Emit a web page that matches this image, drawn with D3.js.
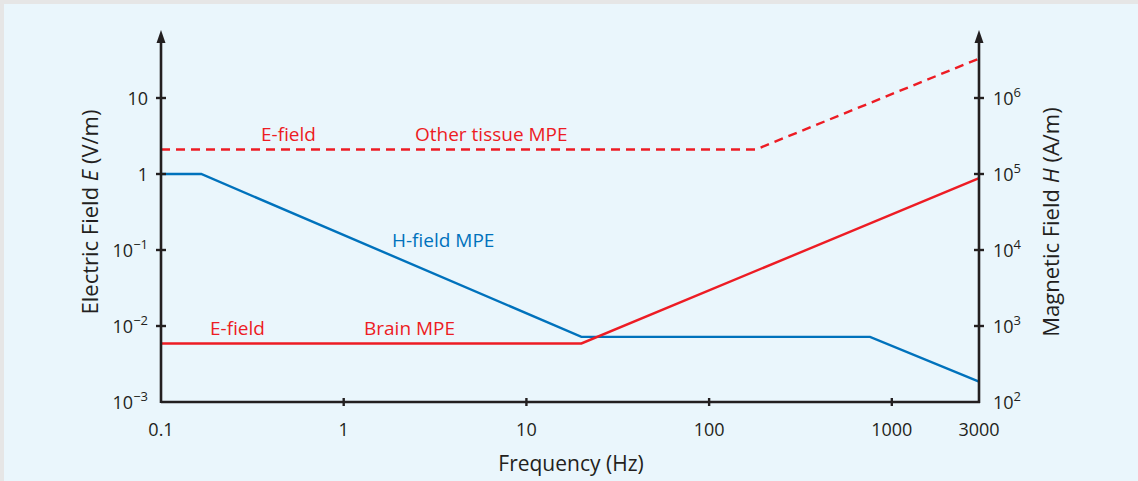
<!DOCTYPE html>
<html>
<head>
<meta charset="utf-8">
<script src="https://cdn.jsdelivr.net/npm/d3@7"></script>
<style>
  html, body { margin: 0; padding: 0; background: #e6e6e6; }
  svg { display: block; font-family: "Open Sans", "Noto Sans", sans-serif; }
</style>
</head>
<body>
<div class="chart"></div>
<script>
// frequency (Hz) / value pairs
var brainFreq   = [0.1, 20, 3000];
var brainE      = [0.00589, 0.00589, 0.882];
var otherFreq   = [0.1, 180, 3000];
var otherE      = [2.1, 2.1, 33];
var hFreq       = [0.1, 0.166, 20, 760, 3000];
var hField      = [100000, 100000, 720, 720, 185];

var xTicks      = [0.1, 1, 10, 100, 1000, 3000];
var xTickLabels = ["0.1", "1", "10", "100", "1000", "3000"];
var eTicks      = [0.001, 0.01, 0.1, 1, 10];
var eTickLabels = [["10", "\u22123"], ["10", "\u22122"], ["10", "\u22121"], ["1", ""], ["10", ""]];
var hTicks      = [100, 1000, 10000, 100000, 1000000];
var hTickLabels = [["10", "2"], ["10", "3"], ["10", "4"], ["10", "5"], ["10", "6"]];

var width = 1138, height = 481;
var red = "#ed1c24", blue = "#0072bc", ink = "#231f20";

var svg = d3.select(".chart").append("svg")
  .attr("width", width).attr("height", height);

svg.append("rect").attr("x", 4).attr("y", 4)
  .attr("width", width - 4).attr("height", height - 4)
  .attr("fill", "#eaf6fc");

var x  = d3.scaleLog().domain([0.1, 3000]).range([161, 979]);
var yE = d3.scaleLog().domain([0.001, 10]).range([402, 98]);
var yH = d3.scaleLog().domain([100, 1000000]).range([402, 98]);

var x0 = x.range()[0], x1 = x.range()[1], yb = yE.range()[0];

function pairs(a, b) { return a.map(function(v, i) { return [v, b[i]]; }); }

// lines
var lineE = d3.line().x(function(d) { return x(d[0]); }).y(function(d) { return yE(d[1]); });
var lineH = d3.line().x(function(d) { return x(d[0]); }).y(function(d) { return yH(d[1]); });

svg.append("path").datum(pairs(hFreq, hField))
  .attr("d", lineH).attr("fill", "none").attr("stroke", blue).attr("stroke-width", 2.4);
svg.append("path").datum(pairs(otherFreq, otherE))
  .attr("d", lineE).attr("fill", "none").attr("stroke", red).attr("stroke-width", 2.4)
  .attr("stroke-dasharray", "9,6");
svg.append("path").datum(pairs(brainFreq, brainE))
  .attr("d", lineE).attr("fill", "none").attr("stroke", red).attr("stroke-width", 2.4);

// axis lines
var axes = svg.append("g").attr("stroke", ink).attr("stroke-width", 2.6).attr("fill", "none");
axes.append("line").attr("x1", x0).attr("x2", x1 + 1).attr("y1", yb).attr("y2", yb);
axes.append("line").attr("x1", x0).attr("x2", x0).attr("y1", yb + 1).attr("y2", 38);
axes.append("line").attr("x1", x1).attr("x2", x1).attr("y1", yb + 1).attr("y2", 38);

[x0, x1].forEach(function(ax) {
  svg.append("path")
    .attr("d", "M" + ax + ",30 L" + (ax - 4.5) + ",43 L" + (ax + 4.5) + ",43 Z")
    .attr("fill", ink);
});

// ticks crossing axes
var tk = svg.append("g").attr("stroke", ink).attr("stroke-width", 2.4);
tk.selectAll(".xt").data(xTicks.slice(1, 5)).enter().append("line")
  .attr("x1", function(d) { return x(d); }).attr("x2", function(d) { return x(d); })
  .attr("y1", yb - 4).attr("y2", yb + 4);
tk.selectAll(".et").data(eTicks.slice(1)).enter().append("line")
  .attr("x1", x0 - 5).attr("x2", x0 + 5)
  .attr("y1", function(d) { return yE(d); }).attr("y2", function(d) { return yE(d); });
tk.selectAll(".ht").data(hTicks.slice(1)).enter().append("line")
  .attr("x1", x1 - 5).attr("x2", x1 + 5)
  .attr("y1", function(d) { return yH(d); }).attr("y2", function(d) { return yH(d); });

// tick labels
var fs = 18;
svg.selectAll(".xl").data(xTicks).enter().append("text")
  .attr("x", function(d) { return x(d); }).attr("y", 436)
  .attr("text-anchor", "middle").attr("font-size", fs).attr("fill", ink)
  .text(function(d, i) { return xTickLabels[i]; });

function supLabel(sel, labels) {
  sel.each(function(d, i) {
    var t = d3.select(this);
    t.append("tspan").text(labels[i][0]);
    if (labels[i][1]) {
      t.append("tspan").attr("dy", -8).attr("font-size", 13).text(labels[i][1]);
    }
  });
}

svg.selectAll(".el").data(eTicks).enter().append("text")
  .attr("x", 148).attr("y", function(d) { return yE(d) + 6.5; })
  .attr("text-anchor", "end").attr("font-size", fs).attr("fill", ink)
  .call(supLabel, eTickLabels);

svg.selectAll(".hl").data(hTicks).enter().append("text")
  .attr("x", 993).attr("y", function(d) { return yH(d) + 6.5; })
  .attr("text-anchor", "start").attr("font-size", fs).attr("fill", ink)
  .call(supLabel, hTickLabels);

// axis titles
svg.append("text").attr("x", 571).attr("y", 471)
  .attr("text-anchor", "middle").attr("font-size", 21).attr("fill", ink)
  .text("Frequency (Hz)");

var lt = svg.append("text").attr("transform", "translate(98,212) rotate(-90)")
  .attr("text-anchor", "middle").attr("font-size", 22).attr("fill", ink);
lt.append("tspan").text("Electric Field ");
lt.append("tspan").attr("font-style", "italic").text("E");
lt.append("tspan").text(" (V/m)");

var rt = svg.append("text").attr("transform", "translate(1059,222) rotate(-90)")
  .attr("text-anchor", "middle").attr("font-size", 22).attr("fill", ink);
rt.append("tspan").text("Magnetic Field ");
rt.append("tspan").attr("font-style", "italic").text("H");
rt.append("tspan").text(" (A/m)");

// series labels
var notes = [
  { t: "E-field", x: 261, y: 141, c: red },
  { t: "Other tissue MPE", x: 415, y: 141, c: red },
  { t: "H-field MPE", x: 392, y: 247, c: blue },
  { t: "E-field", x: 210, y: 335, c: red },
  { t: "Brain MPE", x: 364, y: 335, c: red }
];
svg.selectAll(".note").data(notes).enter().append("text")
  .attr("x", function(d) { return d.x; }).attr("y", function(d) { return d.y; })
  .attr("font-size", 19).attr("fill", function(d) { return d.c; })
  .text(function(d) { return d.t; });
</script>
</body>
</html>
